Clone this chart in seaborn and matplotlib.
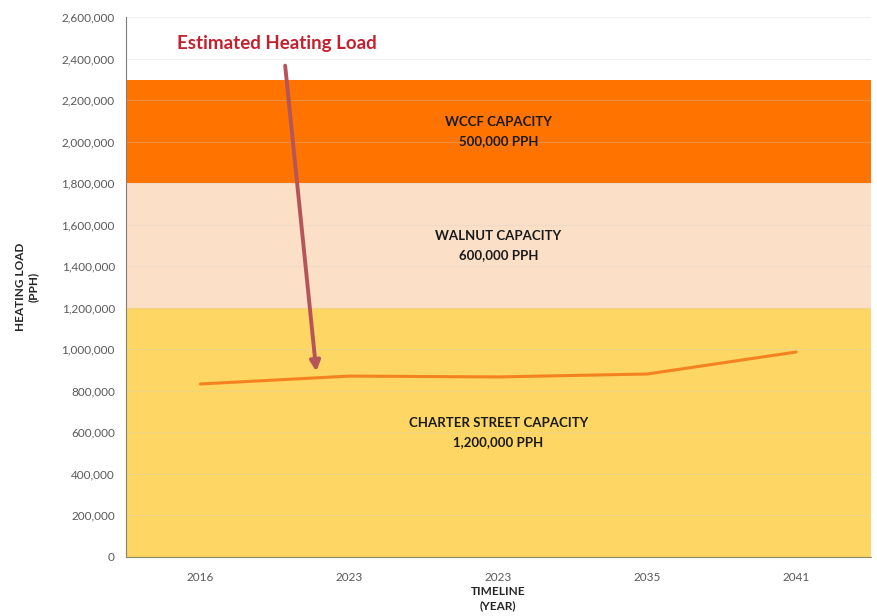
import numpy as np
import pandas as pd
import matplotlib.pyplot as plt
import seaborn as sns

# data
years = ["2016", "2023", "2023", "2035", "2041"]
heating_load = [833000, 871000, 867000, 881000, 987000]

band_names = ["CHARTER STREET CAPACITY\n1,200,000 PPH",
              "WALNUT CAPACITY\n600,000 PPH",
              "WCCF CAPACITY\n500,000 PPH"]
band_capacity = [1200000, 600000, 500000]
band_colors = ["#fdd663", "#fbdfc6", "#ff7300"]

yticks = np.arange(0, 2600001, 200000)

sns.set_style("white")
plt.rcParams['font.family'] = ['Lato', 'DejaVu Sans']

fig = plt.figure(figsize=(8.78, 6.16), dpi=100)
ax = fig.add_axes([0.1435, 0.096, 0.848, 0.876])

# stacked capacity bands, label in the middle of each
lo = 0
for name, cap, col in zip(band_names, band_capacity, band_colors):
    ax.axhspan(lo, lo + cap, color=col, zorder=0, lw=0)
    ax.text(2.0, lo + cap / 2, name, ha="center", va="center", fontsize=9.5,
            fontweight="bold", color="#1a1a1a", linespacing=1.75, zorder=3)
    lo += cap

for t in yticks:
    ax.axhline(t, color="#d0d0d0", lw=0.8, alpha=0.3, zorder=1)

df = pd.DataFrame({"pos": np.arange(len(years)), "load": heating_load})
sns.lineplot(data=df, x="pos", y="load", color="#f58220", lw=2.2, ax=ax, zorder=4)

ax.annotate("", xy=(0.78, 880000), xytext=(0.567, 2380000),
            arrowprops=dict(arrowstyle="-|>", color="#b5555a", lw=2.8,
                            mutation_scale=15), zorder=5)
ax.text(-0.155, 2475000, "Estimated Heating Load", color="#c4212f",
        fontsize=13.5, fontweight="bold", va="center", ha="left")

ax.set_xlim(-0.5, 4.5)
ax.set_ylim(0, 2600000)
ax.set_xticks(range(len(years)))
ax.set_xticklabels(years)
ax.set_yticks(yticks)
ax.set_yticklabels([f"{v:,.0f}" for v in yticks])
ax.tick_params(axis="both", labelsize=8.5, labelcolor="#595959", length=3,
               color="#808080", direction="out")
ax.tick_params(axis="x", pad=8)
ax.tick_params(axis="y", pad=5)

ax.set_xlabel("TIMELINE\n(YEAR)", fontsize=8.5, fontweight="bold", labelpad=2,
              linespacing=1.4)
ax.set_ylabel("HEATING LOAD\n(PPH)", fontsize=8.5, fontweight="bold", labelpad=16,
              linespacing=1.3)

sns.despine(ax=ax, top=True, right=True)
ax.spines["left"].set_color("#7f7f7f")
ax.spines["bottom"].set_color("#8c8c6a")

fig.savefig("out.png", dpi=100)
